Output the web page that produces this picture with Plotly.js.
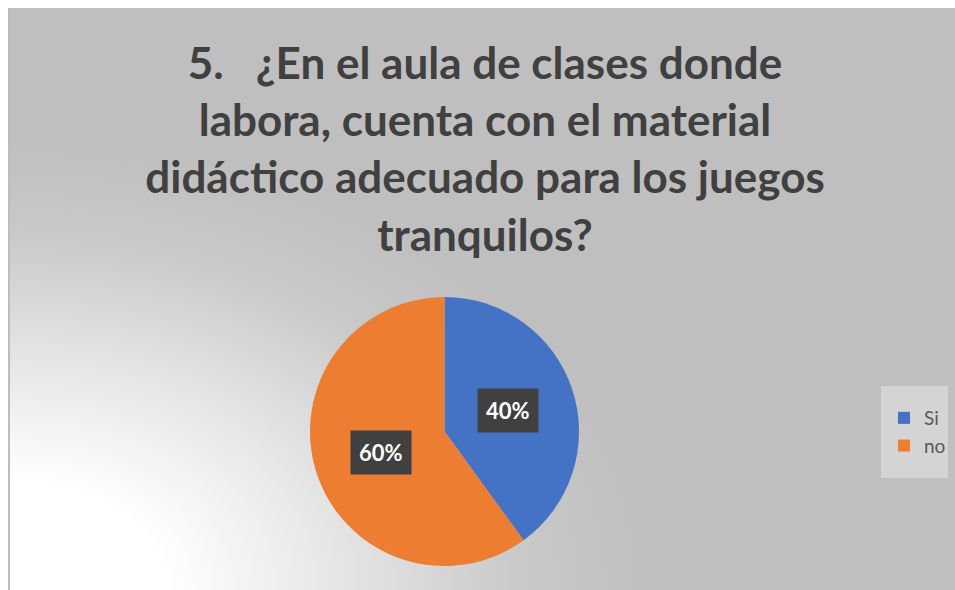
<!DOCTYPE html>
<html>
<head>
<meta charset="utf-8">
<script src="https://cdn.plot.ly/plotly-3.0.1.min.js"></script>
<style>
  html, body { margin: 0; padding: 0; background: #ffffff; }
  #wrap { position: relative; width: 955px; height: 590px; overflow: hidden; }
  #frame {
    position: absolute; left: 8px; top: 8px; width: 947px; height: 582px;
    box-sizing: border-box; border-left: 2px solid #bdbdbd;
    background: radial-gradient(ellipse 75% 85% at 0% 100%, #ffffff 0%, #ffffff 22%, #e2e2e2 50%, #c9c9c9 72%, #bfbfbf 90%);
  }
  #chart { position: absolute; left: 0; top: 0; width: 955px; height: 590px; }
</style>
</head>
<body>
<div id="wrap">
  <div id="frame"></div>
  <div id="chart"></div>
</div>
<script>
const titleLines = [
  "5.   ¿En el aula de clases donde",
  "labora, cuenta con el material",
  "didáctico adecuado para los juegos",
  "tranquilos?"
];
const categories = ["Si", "no"];
const values = [40, 60];
const colors = ["#4472C4", "#ED7D31"];

const W = 955, H = 590;
const pieX = [310 / W, 579 / W];
const pieY = [1 - 566 / H, 1 - 297 / H];
const cx = (pieX[0] + pieX[1]) / 2;
const cy = (pieY[0] + pieY[1]) / 2;
const rPx = 134.5;
const labelFrac = 0.5;

const total = values.reduce((a, b) => a + b, 0);
const annotations = [];
let cum = 0;
values.forEach((v, i) => {
  const mid = (cum + v / 2) / total * 2 * Math.PI;
  cum += v;
  const pct = Math.round(v / total * 100) + "%";
  annotations.push({
    xref: "paper", yref: "paper",
    x: cx + labelFrac * rPx * Math.sin(mid) / W,
    y: cy + labelFrac * rPx * Math.cos(mid) / H,
    xanchor: "center", yanchor: "middle",
    text: "<b>" + pct + "</b>",
    showarrow: false,
    bgcolor: "#404040",
    borderpad: 8,
    font: { family: "Lato, 'Open Sans', sans-serif", size: 22, color: "#ffffff" }
  });
});

const data = [{
  type: "pie",
  labels: categories,
  values: values,
  marker: { colors: colors, line: { width: 0 } },
  sort: false,
  direction: "clockwise",
  rotation: 0,
  textinfo: "none",
  hoverinfo: "label+percent",
  domain: { x: pieX, y: pieY }
}];

const layout = {
  width: W, height: H,
  margin: { l: 0, r: 0, t: 0, b: 0 },
  paper_bgcolor: "rgba(0,0,0,0)",
  plot_bgcolor: "rgba(0,0,0,0)",
  title: {
    text: "<b>" + titleLines.join("<br>") + "</b>",
    x: 485 / W, xanchor: "center",
    y: 1 - 79 / H, yanchor: "top",
    xref: "paper", yref: "paper",
    font: { family: "Lato, 'Open Sans', sans-serif", size: 44, color: "#404040" }
  },
  showlegend: true,
  legend: {
    x: 884 / W, xanchor: "left",
    y: 1 - 432 / H, yanchor: "middle",
    bgcolor: "rgba(0,0,0,0)",
    font: { family: "Lato, 'Open Sans', sans-serif", size: 19, color: "#595959" },
    itemwidth: 30
  },
  shapes: [{
    type: "rect", xref: "paper", yref: "paper",
    x0: 881 / W, x1: 948 / W, y0: 1 - 478 / H, y1: 1 - 386 / H,
    fillcolor: "#d4d4d4", line: { width: 0 }, layer: "below"
  }],
  annotations: annotations
};

Plotly.newPlot("chart", data, layout, { displayModeBar: false, staticPlot: true });
</script>
</body>
</html>
